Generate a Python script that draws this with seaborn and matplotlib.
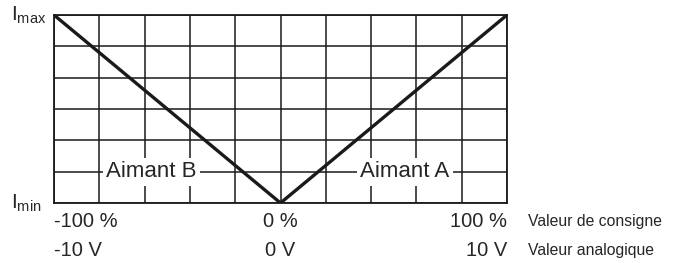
import numpy as np
import pandas as pd
import matplotlib
matplotlib.use("Agg")
import matplotlib.pyplot as plt
import seaborn as sns

# consigne (%) vs courant, normalised 0 (I_min) .. 1 (I_max)
consigne = [-100, 0, 100]
courant = [1.0, 0.0, 1.0]
pct_labels = ["-100 %", "0 %", "100 %"]
volt_labels = ["-10 V", "0 V", "10 V"]
row_names = ["Valeur de consigne", "Valeur analogique"]
aimants = ["Aimant B", "Aimant A"]
aimant_x = [-57, 55]

sns.set_style("white")
plt.rcParams['font.family'] = ['Liberation Sans', 'DejaVu Sans']

df = pd.DataFrame({"consigne": consigne, "courant": courant})

fig = plt.figure(figsize=(6.77, 2.63), dpi=100)
ax = fig.add_axes([54 / 677, 1 - 203 / 263, 453 / 677, 188 / 263])

sns.lineplot(data=df, x="consigne", y="courant", color="#1a1a1a", linewidth=2.4, ax=ax, zorder=3)

ax.set_xlim(-100, 100)
ax.set_ylim(0, 1)
ax.set_xticks(np.arange(-100, 101, 20))
ax.set_yticks(np.arange(0, 1.01, 1 / 6))
ax.grid(True, color="#1a1a1a", linewidth=1.1)
ax.tick_params(length=0, labelbottom=False, labelleft=False)
ax.set_xlabel("")
ax.set_ylabel("")
for s in ax.spines.values():
    s.set_color("#1a1a1a")
    s.set_linewidth(1.3)

for lab, xv in zip(aimants, aimant_x):
    ax.text(xv, 1 / 6, lab, ha="center", va="center", fontsize=16, zorder=4,
            bbox=dict(fc="white", ec="none", pad=2.5))

# I labels
ax.text(-0.095, 1.0, r"$\mathregular{I_{max}}$", transform=ax.transAxes, ha="left", va="center", fontsize=15)
ax.text(-0.095, 0.0, r"$\mathregular{I_{min}}$", transform=ax.transAxes, ha="left", va="center", fontsize=15)

# axis value rows
has = ["left", "center", "right"]
for lab, xv, ha in zip(pct_labels, consigne, has):
    ax.text(xv, -0.096, lab, ha=ha, va="center", fontsize=14.5, transform=ax.get_xaxis_transform())
for lab, xv, ha in zip(volt_labels, consigne, has):
    ax.text(xv, -0.25, lab, ha=ha, va="center", fontsize=14.5, transform=ax.get_xaxis_transform())
ax.text(1.047, -0.096, row_names[0], ha="left", va="center", fontsize=11.3, transform=ax.transAxes)
ax.text(1.047, -0.25, row_names[1], ha="left", va="center", fontsize=11.3, transform=ax.transAxes)

fig.savefig("out.png", dpi=100)
